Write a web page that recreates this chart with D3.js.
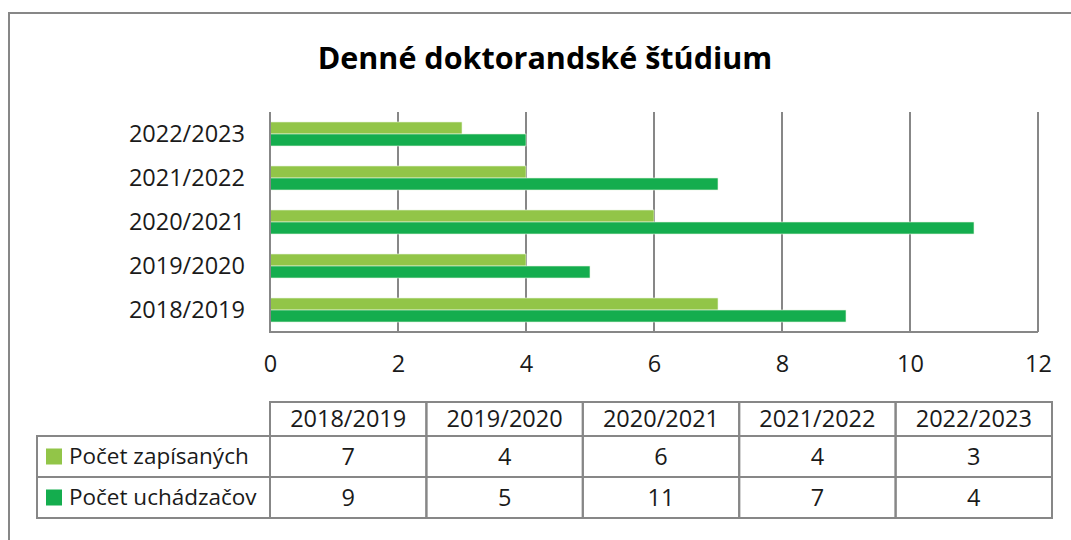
<!DOCTYPE html>
<html>
<head>
<meta charset="utf-8">
<script src="https://cdn.jsdelivr.net/npm/d3@7"></script>
<style>
  body { margin: 0; background: #fff; }
  text { font-family: "Open Sans", sans-serif; fill: #1a1a1a; }
</style>
</head>
<body>
<div id="chart"></div>
<script>
/* DATA */
const years = ["2018/2019", "2019/2020", "2020/2021", "2021/2022", "2022/2023"];
const seriesNames = ["Počet zapísaných", "Počet uchádzačov"];
const zapisanych = [7, 4, 6, 4, 3];
const uchadzacov = [9, 5, 11, 7, 4];
const xTicks = [0, 2, 4, 6, 8, 10, 12];
const colors = ["#92c548", "#14ad4e"];

const width = 1071, height = 540;
const gridColor = "#878787";
const labelSize = 23.5;

const rows = years.map((y, i) => ({ year: y, values: [zapisanych[i], uchadzacov[i]] }));

const svg = d3.select("#chart").append("svg")
  .attr("width", width)
  .attr("height", height);

// outer chart frame (cut off on right/bottom)
svg.append("path")
  .attr("d", `M9,${height + 2}V13H${width + 2}`)
  .attr("fill", "none")
  .attr("stroke", gridColor)
  .attr("stroke-width", 2);

// title
svg.append("text")
  .attr("x", 545)
  .attr("y", 69)
  .attr("text-anchor", "middle")
  .attr("font-size", 30.5)
  .attr("font-weight", "bold")
  .style("fill", "#000")
  .text("Denné doktorandské štúdium");

/* SCALES */
const xScale = d3.scaleLinear().domain([0, 12]).range([270, 1038]);

const yScale = d3.scaleBand()
  .domain(years.slice().reverse())
  .range([112, 332])
  .paddingInner(0.4545)
  .paddingOuter(0.227);

const ySub = d3.scaleBand()
  .domain([0, 1])
  .range([0, yScale.bandwidth()]);

// gridlines
svg.append("g")
  .selectAll("line")
  .data(xTicks.slice(1))
  .join("line")
  .attr("x1", d => xScale(d))
  .attr("x2", d => xScale(d))
  .attr("y1", 112)
  .attr("y2", 332)
  .attr("stroke", gridColor)
  .attr("stroke-width", 2);

// bars
const groups = svg.append("g")
  .selectAll("g")
  .data(rows)
  .join("g")
  .attr("transform", d => `translate(0,${yScale(d.year)})`);

groups.selectAll("rect")
  .data(d => d.values)
  .join("rect")
  .attr("x", xScale(0))
  .attr("y", (d, i) => ySub(i))
  .attr("width", d => xScale(d) - xScale(0))
  .attr("height", ySub.bandwidth())
  .attr("fill", (d, i) => colors[i])
  .attr("stroke", "#e8f5e0")
  .attr("stroke-width", 0.6);

// axes lines
svg.append("path")
  .attr("d", `M${xScale(0)},112V332H${xScale(12)}`)
  .attr("fill", "none")
  .attr("stroke", gridColor)
  .attr("stroke-width", 2);

// x tick labels
const xAxis = d3.axisBottom(xScale).tickValues(xTicks).tickSize(0).tickPadding(0);
svg.append("g")
  .attr("transform", "translate(0,354)")
  .call(xAxis)
  .call(g => g.select(".domain").remove())
  .call(g => g.selectAll("text")
    .attr("font-size", labelSize)
    .attr("font-family", "Open Sans, sans-serif")
    .attr("fill", "#1a1a1a")
    .attr("dy", "0.76em"));

// y labels
const yAxis = d3.axisLeft(yScale).tickSize(0).tickPadding(25);
svg.append("g")
  .attr("transform", `translate(${xScale(0)},0)`)
  .call(yAxis)
  .call(g => g.select(".domain").remove())
  .call(g => g.selectAll("text")
    .attr("font-size", labelSize)
    .attr("font-family", "Open Sans, sans-serif")
    .attr("fill", "#1a1a1a"));

/* DATA TABLE */
const colScale = d3.scaleBand().domain(years).range([270, 1052]);
const rowEdges = [402, 436, 477, 518];
const tableLeft = 37;
const tbl = svg.append("g");

// header row cells
tbl.selectAll("rect.head")
  .data(years)
  .join("rect")
  .attr("class", "head")
  .attr("x", d => colScale(d))
  .attr("y", rowEdges[0])
  .attr("width", colScale.bandwidth())
  .attr("height", rowEdges[1] - rowEdges[0])
  .attr("fill", "none")
  .attr("stroke", gridColor)
  .attr("stroke-width", 2);

tbl.selectAll("text.head")
  .data(years)
  .join("text")
  .attr("class", "head")
  .attr("x", d => colScale(d) + colScale.bandwidth() / 2)
  .attr("y", (rowEdges[0] + rowEdges[1]) / 2)
  .attr("dy", "0.35em")
  .attr("text-anchor", "middle")
  .attr("font-size", labelSize)
  .text(d => d);

// series rows
const seriesRows = seriesNames.map((name, s) => ({
  name, s, values: s === 0 ? zapisanych : uchadzacov
}));

const sr = tbl.selectAll("g.row")
  .data(seriesRows)
  .join("g")
  .attr("class", "row");

sr.append("rect")
  .attr("x", tableLeft)
  .attr("y", d => rowEdges[d.s + 1])
  .attr("width", 270 - tableLeft)
  .attr("height", d => rowEdges[d.s + 2] - rowEdges[d.s + 1])
  .attr("fill", "none")
  .attr("stroke", gridColor)
  .attr("stroke-width", 2);

sr.append("rect")
  .attr("x", 46)
  .attr("y", d => (rowEdges[d.s + 1] + rowEdges[d.s + 2]) / 2 - 8)
  .attr("width", 16)
  .attr("height", 16)
  .attr("fill", d => colors[d.s]);

sr.append("text")
  .attr("x", 69)
  .attr("y", d => (rowEdges[d.s + 1] + rowEdges[d.s + 2]) / 2)
  .attr("dy", "0.35em")
  .attr("font-size", 22.5)
  .text(d => d.name);

sr.selectAll("rect.cell")
  .data(d => d.values.map((v, i) => ({ v, year: years[i], s: d.s })))
  .join("rect")
  .attr("class", "cell")
  .attr("x", d => colScale(d.year))
  .attr("y", d => rowEdges[d.s + 1])
  .attr("width", colScale.bandwidth())
  .attr("height", d => rowEdges[d.s + 2] - rowEdges[d.s + 1])
  .attr("fill", "none")
  .attr("stroke", gridColor)
  .attr("stroke-width", 2);

sr.selectAll("text.cell")
  .data(d => d.values.map((v, i) => ({ v, year: years[i], s: d.s })))
  .join("text")
  .attr("class", "cell")
  .attr("x", d => colScale(d.year) + colScale.bandwidth() / 2)
  .attr("y", d => (rowEdges[d.s + 1] + rowEdges[d.s + 2]) / 2)
  .attr("dy", "0.35em")
  .attr("text-anchor", "middle")
  .attr("font-size", labelSize)
  .text(d => d.v);
</script>
</body>
</html>
